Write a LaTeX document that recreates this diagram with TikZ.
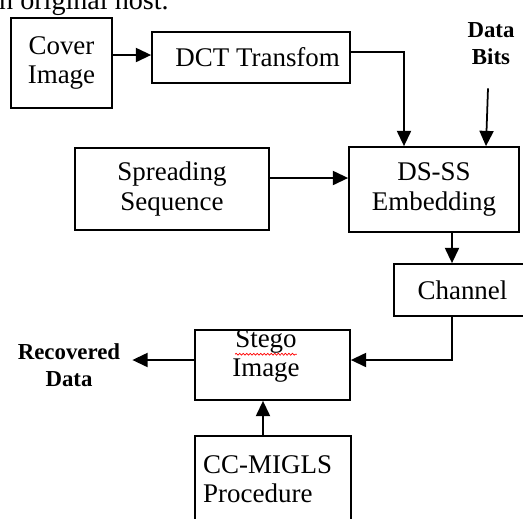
\documentclass[tikz,border=0pt]{standalone}
\usepackage{fontspec}
\setmainfont{Liberation Serif}
\usetikzlibrary{arrows.meta,
		calc,
		decorations.pathmorphing}

\begin{document}
\begin{tikzpicture}[x=0.03cm, y=-0.03cm,
  blk/.style={draw, line width=1.5pt, inner sep=0pt},
  txt/.style={font=\fontsize{23}{25}\selectfont, align=center, inner sep=0pt},
  btxt/.style={font=\fontsize{19.5}{23}\selectfont\bfseries, align=center, inner sep=0pt},
  conn/.style={line width=1.5pt, -{Triangle[length=13pt,width=12pt]}}]

\useasboundingbox (0,0) rectangle (523,518);
\clip (0,0) rectangle (523,518);

\node[txt, font=\fontsize{24}{26}\selectfont, anchor=base west] (host) at (-1,9) {n original host.};

% blocks
\node[blk, txt, minimum width=3.03cm, minimum height=2.7cm] (cover) at (61.5,63) {Cover\\Image};
\node[blk, txt, minimum width=5.94cm, minimum height=1.53cm] (dct) at (251,57.5) {\hspace*{0.4cm}DCT Transfom};
\node[blk, txt, minimum width=5.82cm, minimum height=2.46cm] (spread) at (172,189) {Spreading\\Sequence};
\node[blk, txt, minimum width=5.1cm, minimum height=2.55cm] (dsss) at (434,189.5) {DS-SS\\Embedding};
\node[blk, txt, minimum width=4.11cm, minimum height=1.56cm] (chan) at (462.5,290) {Channel};
\node[blk, minimum width=4.65cm, minimum height=2.1cm] (stego) at (272.5,365) {};
\node[txt] (stegoa) at (266,341) {Stego};
\node[txt] (stegob) at (266,371) {Image};
\node[blk, minimum width=4.68cm, minimum height=3.12cm] (cc) at (273,488) {};
\node[txt, align=left, anchor=north west] (cctxt) at (203,455) {CC-MIGLS\\Procedure};

\node[btxt] (bits) at (491,44) {Data\\Bits};
\node[btxt] (recdata) at (69,365) {Recovered\\Data};

\draw[red, line width=0.6pt, decorate, decoration={snake, amplitude=0.8pt, segment length=3pt}]
  ([yshift=-1pt]stegoa.south west) -- ([yshift=-1pt]stegoa.south east);

% connectors
\draw[conn] ($(cover.east)+(0,-8)$) -- ($(dct.west)+(0,-2.5)$);
\draw[conn] ($(dct.east)+(0,-5.5)$) -| ($(dsss.north)+(-30,0)$);
\draw[conn] ($(bits.south)+(-3,23)$) -- ($(dsss.north)+(52,0)$);
\draw[conn] ($(spread.east)+(0,-11)$) -- ($(dsss.west)+(0,-11.5)$);
\draw[conn] ($(dsss.south)+(18,0)$) -- ($(chan.north)+(-10.5,0)$);
\draw[conn] ($(chan.south)+(-10.5,0)$) |- ($(stego.east)+(0,-5)$);
\draw[conn] ($(stego.west)+(0,-5)$) -- ($(recdata.east)+(12,-5)$);
\draw[conn] ($(cc.north)+(-10,0)$) -- ($(stego.south)+(-9.5,0)$);

\end{tikzpicture}
\end{document}
